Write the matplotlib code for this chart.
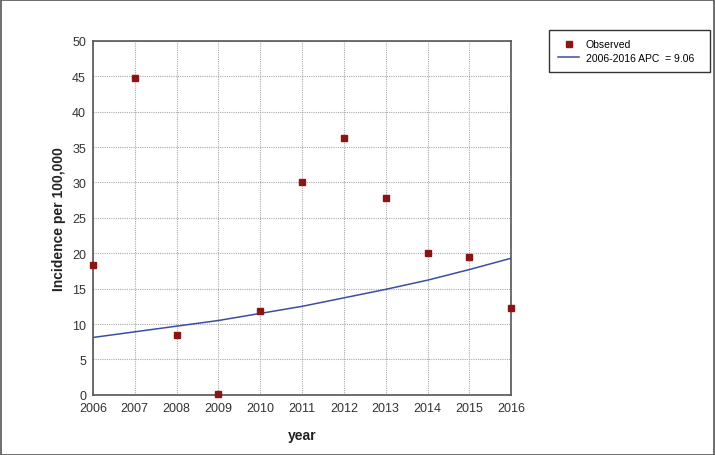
#!/usr/bin/env python3

# incidence trend, observed vs fitted (APC)

import matplotlib.pyplot as plt
from matplotlib.patches import Rectangle

years = [2006, 2007, 2008, 2009, 2010, 2011, 2012, 2013, 2014, 2015, 2016]
observed = [18.4, 44.7, 8.5, 0.1, 11.8, 30.1, 36.3, 27.8, 20.0, 19.5, 12.2]
# fitted values
fitted = [8.1, 8.9, 9.7, 10.5, 11.5, 12.5, 13.7, 14.9, 16.2, 17.7, 19.3]
yticks = [0, 5, 10, 15, 20, 25, 30, 35, 40, 45, 50]


def main():
	plt.rcParams["font.family"] = ["Liberation Sans", "DejaVu Sans"]
	fig = plt.figure(figsize=(7.15, 4.56), dpi=100)
	fig.patches.append(Rectangle((0.001, 0.001), 0.997, 0.996, transform=fig.transFigure,
		fill=False, edgecolor="#555555", linewidth=1.2))

	ax = fig.add_axes([0.130, 0.132, 0.585, 0.776])
	line, = ax.plot(years, fitted, color="#3c4ea0", linewidth=1.1, zorder=3)
	pts, = ax.plot(years, observed, linestyle="none", marker="s", markersize=5,
		color="#8b1414", zorder=4, clip_on=False)

	ax.set_xlim(2006, 2016)
	ax.set_ylim(0, 50)
	ax.set_xticks(years)
	ax.set_yticks(yticks)
	ax.tick_params(length=0, labelsize=9, colors="#333333", pad=5)
	ax.grid(True, color="#aaaaaa", linestyle=(0, (1, 1)), linewidth=0.8)
	for s in ax.spines.values():
		s.set_color("#555555")
		s.set_linewidth(1.2)

	ax.set_xlabel("year", fontsize=10, fontweight="bold", labelpad=10, color="#222222")
	ax.set_ylabel("Incidence per 100,000", fontsize=10, fontweight="bold", labelpad=4, color="#222222")

	leg = fig.legend([pts, line], ["Observed", "2006-2016 APC  = 9.06"],
		loc="upper left", bbox_to_anchor=(0.768, 0.932, 0.225, 0.0), mode="expand",
		borderaxespad=0, fontsize=7.5, frameon=True, fancybox=False,
		edgecolor="#333333", framealpha=1, handlelength=2.0, handletextpad=0.6,
		borderpad=0.9, labelspacing=0.35, markerscale=0.8)
	leg.get_frame().set_linewidth(1.0)

	fig.savefig("out.png", dpi=100)


if __name__ == "__main__":
	main()
